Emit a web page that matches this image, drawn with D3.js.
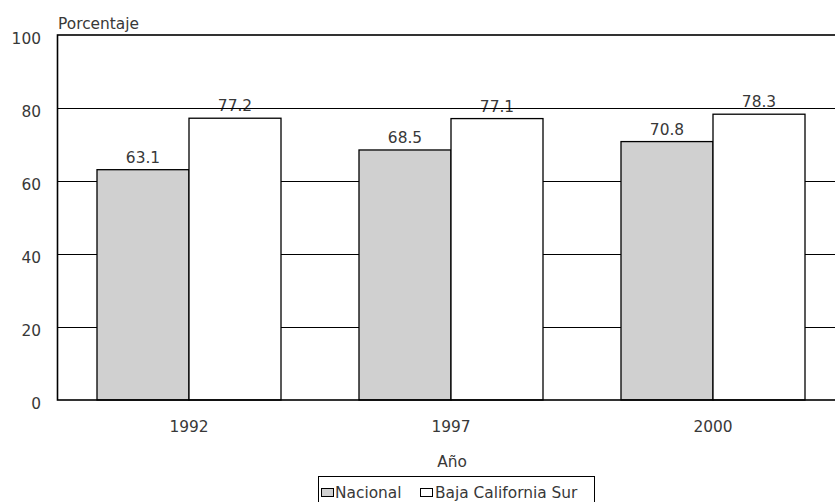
<!DOCTYPE html>
<html><head><meta charset="utf-8">
<script src="https://cdn.jsdelivr.net/npm/d3@7/dist/d3.min.js"></script>
<style>body{margin:0;background:#fff;}svg{display:block;font-family:"DejaVu Sans",sans-serif;}</style>
</head><body><svg id="c" width="835" height="502"></svg>
<script>
const years = ["1992","1997","2000"];
const seriesNames = ["Nacional","Baja California Sur"];
const nacional = [63.1, 68.5, 70.8];
const bcs = [77.2, 77.1, 78.3];
const yTicks = [0,20,40,60,80,100];
const colors = ["#d0d0d0","#ffffff"];
const FS = 15.4;
const TXT = "#383838";

const svg = d3.select("#c");
const L=58, R=844, T=35, B=400;
const x = d3.scaleBand().domain(years).range([L,R]).paddingInner(0).paddingOuter(0);
const xs = d3.scaleBand().domain(seriesNames).range([39, x.bandwidth()-39]);
const y = d3.scaleLinear().domain([0,100]).range([B,T]);
const data = [nacional, bcs];

// value labels (beneath gridlines)
seriesNames.forEach((s,si)=>{
  svg.append("g").selectAll("text").data(years).enter().append("text")
    .attr("x", d=>x(d)+xs(s)+xs.bandwidth()/2)
    .attr("y", (d,i)=>y(data[si][i])-7)
    .attr("text-anchor","middle").attr("font-size",FS).attr("fill",TXT)
    .text((d,i)=>data[si][i].toFixed(1));
});
// gridlines
svg.append("g").selectAll("line").data(yTicks.filter(t=>t>0&&t<100)).enter().append("line")
  .attr("x1",L).attr("x2",R).attr("y1",d=>Math.round(y(d))+0.5).attr("y2",d=>Math.round(y(d))+0.5)
  .attr("stroke","#000").attr("stroke-width",1);
// bars
seriesNames.forEach((s,si)=>{
  svg.append("g").selectAll("rect").data(years).enter().append("rect")
    .attr("x", d=>x(d)+xs(s)).attr("width", xs.bandwidth())
    .attr("y",(d,i)=>y(data[si][i])).attr("height",(d,i)=>B-y(data[si][i]))
    .attr("fill",colors[si]).attr("stroke","#000").attr("stroke-width",1.3);
});
// frame
svg.append("rect").attr("x",L-0.5).attr("y",T).attr("width",R-L).attr("height",B-T)
  .attr("fill","none").attr("stroke","#000").attr("stroke-width",1.6);
// y axis labels
const ya = svg.append("g").attr("transform",`translate(${L},0)`)
  .call(d3.axisLeft(y).tickValues(yTicks).tickSize(0).tickPadding(17));
ya.select(".domain").remove();
ya.attr("font-family",null).attr("font-size",null);
ya.selectAll("text").attr("font-size",FS).attr("fill",TXT).attr("dy","0.55em");
// x axis labels
const xa = svg.append("g").attr("transform",`translate(0,${B})`)
  .call(d3.axisBottom(x).tickSize(0).tickPadding(21));
xa.select(".domain").remove();
xa.attr("font-family",null).attr("font-size",null);
xa.selectAll("text").attr("font-size",FS).attr("fill",TXT);
// titles
svg.append("text").attr("x",L).attr("y",29).attr("font-size",FS).attr("fill",TXT).text("Porcentaje");
svg.append("text").attr("x",452).attr("y",467).attr("text-anchor","middle").attr("font-size",FS).attr("fill",TXT).text("Año");
// legend
const lg = svg.append("g");
lg.append("rect").attr("x",318.5).attr("y",476.5).attr("width",276).attr("height",26).attr("fill","#fff").attr("stroke","#000").attr("stroke-width",1);
const items=[{n:"Nacional",sx:321,tx:335},{n:"Baja California Sur",sx:420,tx:435}];
items.forEach((it,i)=>{
  lg.append("rect").attr("x",it.sx+0.5).attr("y",488.5).attr("width",12).attr("height",8)
    .attr("fill",colors[i]).attr("stroke","#000").attr("stroke-width",1);
  lg.append("text").attr("x",it.tx).attr("y",498).attr("font-size",FS).attr("fill",TXT).text(it.n);
});
</script></body></html>
